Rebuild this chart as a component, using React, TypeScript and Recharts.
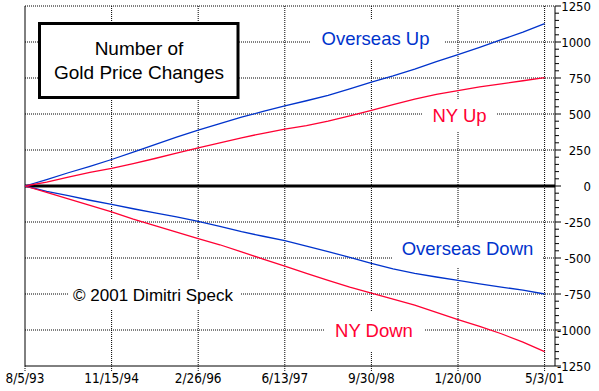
import React from 'react';
import { LineChart, Line, XAxis, YAxis, CartesianGrid, ReferenceLine } from 'recharts';

// position along the time axis, in units of one x-tick interval (8/5/93 = 0 ... 5/3/01 = 6)
const periods = [
  0, 0.25, 0.5, 0.75, 1, 1.25, 1.5, 1.75, 2, 2.25, 2.5, 2.75, 3,
  3.25, 3.5, 3.75, 4, 4.25, 4.5, 4.75, 5, 5.25, 5.5, 5.75, 6,
];

const overseasUp = [
  0, 45, 92, 137, 184, 235, 288, 340, 388, 434, 478, 518, 556,
  592, 630, 675, 722, 764, 811, 864, 913, 963, 1016, 1068, 1127,
];
const nyUp = [
  0, 27, 62, 94, 122, 156, 191, 228, 265, 300, 335, 366, 395,
  420, 450, 487, 526, 565, 603, 636, 663, 688, 709, 731, 752,
];
const overseasDown = [
  0, -38, -67, -99, -128, -158, -186, -214, -245, -280, -317, -349, -380,
  -418, -455, -496, -538, -576, -607, -632, -655, -679, -702, -723, -750,
];
const nyDown = [
  0, -45, -89, -134, -180, -230, -275, -321, -366, -408, -457, -508, -557,
  -607, -655, -702, -744, -785, -828, -878, -928, -975, -1026, -1084, -1150,
];

const xTickLabels = ['8/5/93', '11/15/94', '2/26/96', '6/13/97', '9/30/98', '1/20/00', '5/3/01'];
const xTicks = [0, 1, 2, 3, 4, 5, 6];
const yMajorTicks = [1250, 1000, 750, 500, 250, 0, -250, -500, -750, -1000, -1250];

const yAllTicks: number[] = [];
for (let v = -1250; v <= 1250; v += 50) yAllTicks.push(v);

const BLUE = '#0033CC';
const RED = '#FF0033';
const LABEL_FONT = "'Liberation Sans', Arial, sans-serif";
const TICK_FONT = "'Liberation Sans Narrow', 'Arial Narrow', 'DejaVu Sans Condensed', sans-serif";

const data = periods.map((p, i) => ({
  p,
  overseasUp: overseasUp[i],
  nyUp: nyUp[i],
  overseasDown: overseasDown[i],
  nyDown: nyDown[i],
}));

function YTick(props: any) {
  const { x, y, payload } = props;
  const v = payload.value as number;
  const major = v % 250 === 0;
  return (
    <g>
      <line x1={x} x2={x + (major ? 6 : 4)} y1={y} y2={y} stroke="#000" />
      {major && (
        <text x={x + 36} y={y + 4.5} textAnchor="end" fontSize={13} fontFamily={TICK_FONT} fill="#000">
          {String(v)}
        </text>
      )}
    </g>
  );
}

function XTick(props: any) {
  const { x, y, payload } = props;
  return (
    <g>
      <line x1={x} x2={x} y1={y} y2={y + 6} stroke="#000" strokeDasharray="1 1" />
      <text x={x} y={y + 17} textAnchor="middle" fontSize={13.5} fontFamily={TICK_FONT} fill="#000">
        {xTickLabels[payload.value]}
      </text>
    </g>
  );
}

function Label({ x, y, w, h, text, color, size, bx, by }: any) {
  return (
    <g>
      <rect x={bx} y={by} width={w} height={h} fill="#fff" />
      <text x={x} y={y} textAnchor="middle" fontSize={size} fontFamily={LABEL_FONT} fill={color}>
        {text}
      </text>
    </g>
  );
}

export default function App() {
  return (
    <div style={{ position: 'absolute', left: 0, top: 0, width: 599, height: 391, background: '#fff' }}>
      <LineChart width={599} height={391} data={data} margin={{ top: 6, right: 0, left: 25, bottom: 0 }}>
        <CartesianGrid
          stroke="#000"
          strokeDasharray="1 1"
          horizontalValues={yMajorTicks.filter((v) => v !== 0 && v !== -1250)}
          verticalValues={[1, 2, 3, 4, 5, 6]}
        />
        <XAxis
          dataKey="p"
          type="number"
          domain={[0, 6.12]}
          ticks={xTicks}
          tickSize={0}
          tickMargin={0}
          tick={<XTick />}
          axisLine={{ stroke: '#000' }}
          height={25}
          interval={0}
        />
        <YAxis
          orientation="right"
          type="number"
          domain={[-1250, 1250]}
          ticks={yAllTicks}
          tickSize={0}
          tickMargin={0}
          tick={<YTick />}
          axisLine={{ stroke: '#000' }}
          width={44}
          interval={0}
        />
        <ReferenceLine x={0} stroke="#000" />
        <ReferenceLine y={0} stroke="#000" strokeWidth={3} />

        <rect x={39.5} y={23.5} width={198.5} height={74} fill="#fff" stroke="#000" strokeWidth={3} />
        <text x={139} y={55} textAnchor="middle" fontSize={19} fontFamily={LABEL_FONT} fill="#000">Number of</text>
        <text x={139} y={78.5} textAnchor="middle" fontSize={19} fontFamily={LABEL_FONT} fill="#000">Gold Price Changes</text>

        <Label bx={310} by={20} w={135} h={40} x={375.5} y={45} text="Overseas Up" color={BLUE} size={18.5} />
        <Label bx={423} by={100} w={74} h={31} x={459.5} y={121.6} text="NY Up" color={RED} size={18.5} />
        <Label bx={392} by={228} w={151} h={39} x={467.5} y={255} text="Overseas Down" color={BLUE} size={18.5} />
        <Label bx={324} by={312} w={101} h={39} x={374} y={336.7} text="NY Down" color={RED} size={18.5} />
        <Label bx={68} by={280} w={173} h={30} x={153} y={300.7} text={'\u00A9 2001 Dimitri Speck'} color="#000" size={17} />

        <Line type="linear" dataKey="overseasUp" stroke={BLUE} strokeWidth={1.3} dot={false} isAnimationActive={false} />
        <Line type="linear" dataKey="nyUp" stroke={RED} strokeWidth={1.3} dot={false} isAnimationActive={false} />
        <Line type="linear" dataKey="overseasDown" stroke={BLUE} strokeWidth={1.3} dot={false} isAnimationActive={false} />
        <Line type="linear" dataKey="nyDown" stroke={RED} strokeWidth={1.3} dot={false} isAnimationActive={false} />
      </LineChart>
    </div>
  );
}
